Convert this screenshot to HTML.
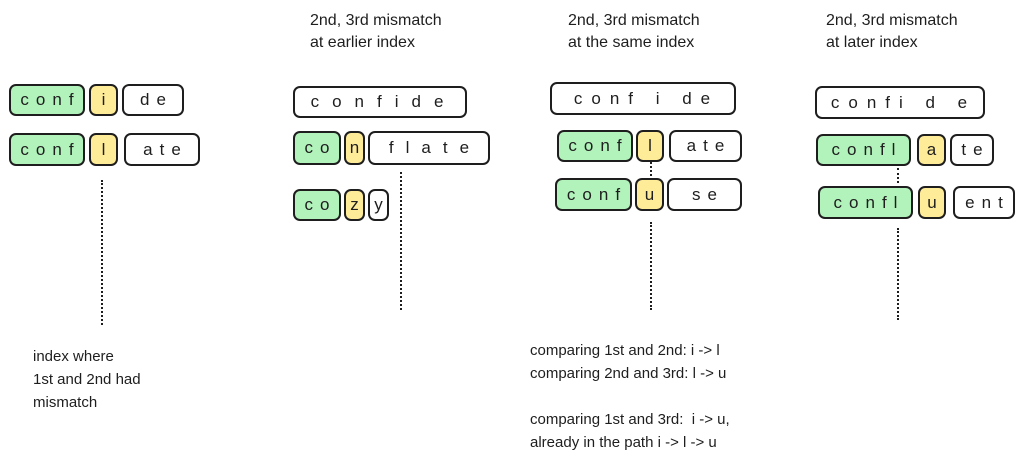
<!DOCTYPE html>
<html><head><meta charset="utf-8"><style>
body{margin:0;width:1024px;height:464px;background:#fff;position:relative;overflow:hidden;font-family:"Liberation Sans",sans-serif;color:#1e1e1e}
.b{position:absolute;box-sizing:border-box;border:2px solid #1e1e1e;border-radius:7px;display:flex;align-items:center;justify-content:center;font-size:17px;letter-spacing:7px;text-indent:7px;background:#fff}
.g{background:#b2f2bb}.y{background:#ffec99}
.d{position:absolute;border-left:2px dotted #1e1e1e;width:0}
.t{position:absolute;font-size:15px;line-height:23px;white-space:pre}
.h{position:absolute;font-size:16px;line-height:22px;white-space:pre}
</style></head><body>
<!-- col1 -->
<div class="b g" style="left:9px;top:84px;width:76px;height:32px">conf</div>
<div class="b y" style="left:89px;top:84px;width:29px;height:32px">i</div>
<div class="b" style="left:122px;top:84px;width:62px;height:32px">de</div>
<div class="b g" style="left:9px;top:133px;width:76px;height:33px">conf</div>
<div class="b y" style="left:89px;top:133px;width:29px;height:33px">l</div>
<div class="b" style="left:124px;top:133px;width:76px;height:33px">ate</div>
<div class="d" style="left:101px;top:180px;height:145px"></div>
<div class="t" style="left:33px;top:345px">index where
1st and 2nd had
mismatch</div>
<!-- col2 -->
<div class="h" style="left:310px;top:10px">2nd, 3rd mismatch
at earlier index</div>
<div class="b" style="left:293px;top:86px;width:174px;height:32px;letter-spacing:13px">confide</div>
<div class="b g" style="left:293px;top:131px;width:48px;height:34px">co</div>
<div class="b y" style="left:344px;top:131px;width:21px;height:34px;letter-spacing:0;text-indent:0">n</div>
<div class="b" style="left:368px;top:131px;width:122px;height:34px;letter-spacing:12px;text-indent:12px">flate</div>
<div class="b g" style="left:293px;top:189px;width:48px;height:32px">co</div>
<div class="b y" style="left:344px;top:189px;width:21px;height:32px;letter-spacing:0;text-indent:0">z</div>
<div class="b" style="left:368px;top:189px;width:21px;height:32px;letter-spacing:0;text-indent:0">y</div>
<div class="d" style="left:400px;top:172px;height:138px"></div>
<!-- col3 -->
<div class="h" style="left:568px;top:10px">2nd, 3rd mismatch
at the same index</div>
<div class="b" style="left:550px;top:82px;width:186px;height:33px;letter-spacing:9px">conf i de</div>
<div class="b g" style="left:557px;top:130px;width:76px;height:32px">conf</div>
<div class="b y" style="left:636px;top:130px;width:28px;height:32px">l</div>
<div class="b" style="left:669px;top:130px;width:73px;height:32px">ate</div>
<div class="b g" style="left:555px;top:178px;width:77px;height:33px">conf</div>
<div class="b y" style="left:635px;top:178px;width:29px;height:33px">u</div>
<div class="b" style="left:667px;top:178px;width:75px;height:33px">se</div>
<div class="d" style="left:650px;top:162px;height:14px"></div>
<div class="d" style="left:650px;top:222px;height:88px"></div>
<div class="t" style="left:530px;top:339px">comparing 1st and 2nd: i -&gt; l
comparing 2nd and 3rd: l -&gt; u

comparing 1st and 3rd:  i -&gt; u,
already in the path i -&gt; l -&gt; u</div>
<!-- col4 -->
<div class="h" style="left:826px;top:10px">2nd, 3rd mismatch
at later index</div>
<div class="b" style="left:815px;top:86px;width:170px;height:33px;letter-spacing:9px">confi d e</div>
<div class="b g" style="left:816px;top:134px;width:95px;height:32px">confl</div>
<div class="b y" style="left:917px;top:134px;width:29px;height:32px">a</div>
<div class="b" style="left:950px;top:134px;width:44px;height:32px">te</div>
<div class="b g" style="left:818px;top:186px;width:95px;height:33px">confl</div>
<div class="b y" style="left:918px;top:186px;width:28px;height:33px">u</div>
<div class="b" style="left:953px;top:186px;width:62px;height:33px">ent</div>
<div class="d" style="left:897px;top:168px;height:15px"></div>
<div class="d" style="left:897px;top:228px;height:92px"></div>
</body></html>
